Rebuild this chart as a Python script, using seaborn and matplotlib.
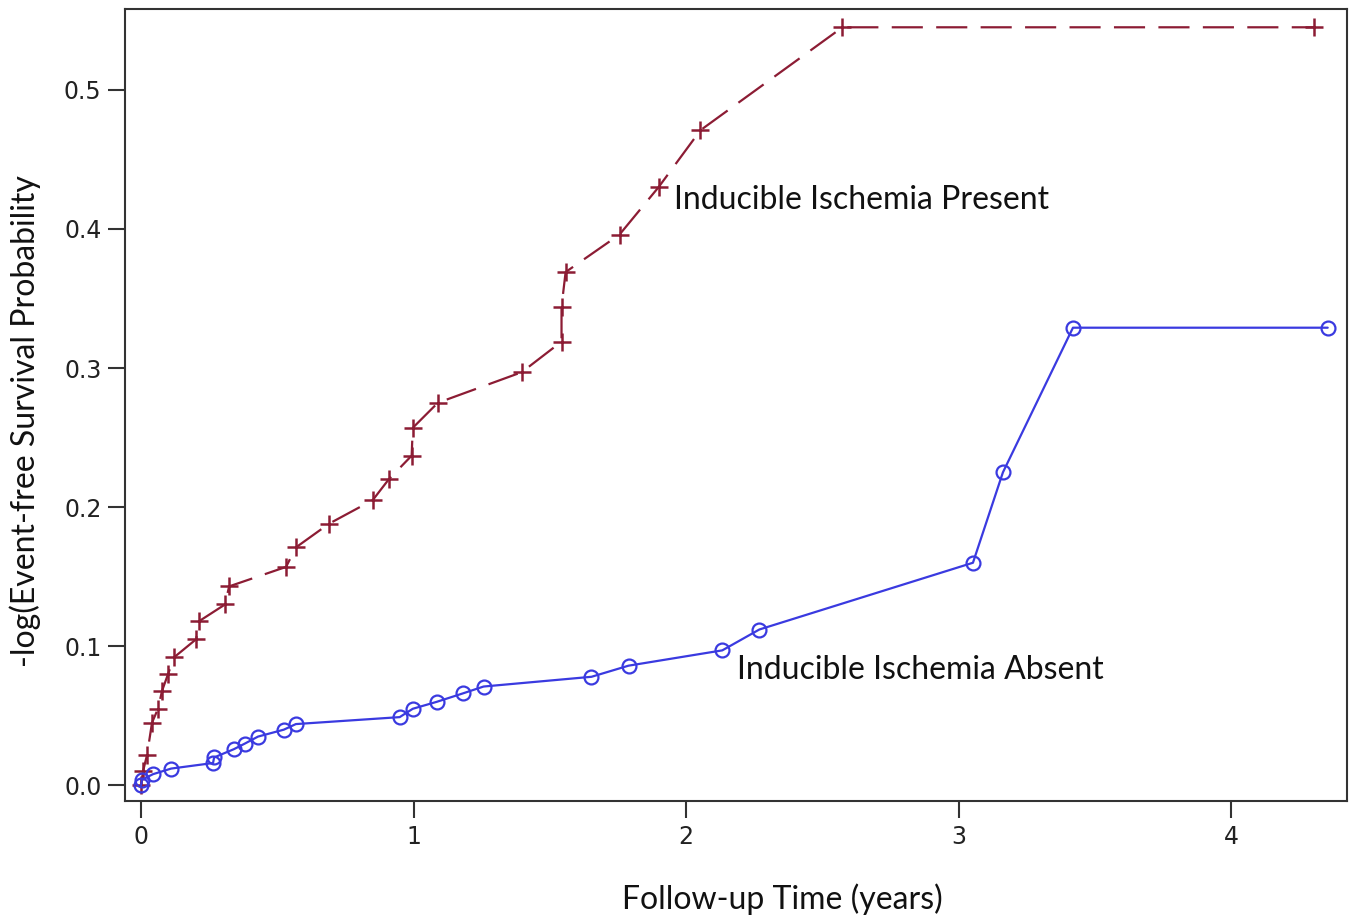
import numpy as np
import pandas as pd
import matplotlib
matplotlib.use("Agg")
import matplotlib.pyplot as plt
import seaborn as sns

# inducible ischemia present (red, dashed, + markers)
present_t = [0.0, 0.007, 0.022, 0.040, 0.062, 0.077, 0.099, 0.121, 0.202, 0.213,
             0.308, 0.323, 0.532, 0.568, 0.689, 0.850, 0.909, 0.993, 0.997, 1.089,
             1.397, 1.543, 1.543, 1.558, 1.756, 1.899, 2.053, 2.574, 4.304]
present_y = [0.0, 0.010, 0.022, 0.045, 0.055, 0.068, 0.080, 0.092, 0.105, 0.118,
             0.130, 0.143, 0.157, 0.171, 0.188, 0.205, 0.220, 0.237, 0.257, 0.275,
             0.297, 0.319, 0.344, 0.369, 0.396, 0.430, 0.471, 0.545, 0.545]

# inducible ischemia absent (blue, solid, o markers)
absent_t = [0.0, 0.003, 0.044, 0.110, 0.264, 0.268, 0.341, 0.381, 0.429, 0.524,
            0.568, 0.949, 0.997, 1.085, 1.180, 1.257, 1.653, 1.789, 2.133, 2.269,
            3.053, 3.163, 3.420, 4.355]
absent_y = [0.0, 0.004, 0.008, 0.012, 0.016, 0.020, 0.026, 0.030, 0.035, 0.040,
            0.044, 0.049, 0.055, 0.060, 0.066, 0.071, 0.078, 0.086, 0.097, 0.112,
            0.160, 0.225, 0.329, 0.329]

x_ticks = [0, 1, 2, 3, 4]
y_ticks = [0.0, 0.1, 0.2, 0.3, 0.4, 0.5]

red = "#8c1c34"
blue = "#3a3ae0"

sns.set_style("white")
fig = plt.figure(figsize=(13.56, 9.21), dpi=100)
ax = fig.add_axes([0.0922, 0.130, 0.9010, 0.860])

sns.lineplot(x=present_t, y=present_y, sort=False, estimator=None, ax=ax,
             color=red, linewidth=1.6, linestyle=(0, (14, 6)),
             marker="+", markersize=13, markeredgewidth=1.8,
             markeredgecolor=red, markerfacecolor=red)
sns.lineplot(x=absent_t, y=absent_y, sort=False, estimator=None, ax=ax,
             color=blue, linewidth=1.6,
             marker="o", markersize=10, markerfacecolor="none",
             markeredgecolor=blue, markeredgewidth=1.6)

ax.text(1.954, 0.421, "Inducible Ischemia Present", fontsize=23, family="Lato",
        va="center", ha="left", color="#111111")
ax.text(2.188, 0.083, "Inducible Ischemia Absent", fontsize=23, family="Lato",
        va="center", ha="left", color="#111111")

ax.set_xlim(-0.059, 4.425)
ax.set_ylim(-0.0115, 0.558)
ax.set_xticks(x_ticks)
ax.set_xticklabels([str(v) for v in x_ticks])
ax.set_yticks(y_ticks)
ax.set_yticklabels([f"{v:.1f}" for v in y_ticks])
for lab in ax.get_xticklabels() + ax.get_yticklabels():
    lab.set_family("DejaVu Sans")
    lab.set_fontsize(17)
    lab.set_color("#222222")
ax.tick_params(axis="both", direction="out", length=12, width=1.5,
               color="#333333", left=True, bottom=True, pad=5)

ax.set_xlabel("Follow-up Time (years)", fontsize=23, family="Lato",
              color="#111111")
ax.set_ylabel("-log(Event-free Survival Probability", fontsize=23, family="Lato",
              color="#111111")
ax.xaxis.set_label_coords(0.538, -0.104)
ax.yaxis.set_label_coords(-0.069, 0.48)

for s in ax.spines.values():
    s.set_visible(True)
    s.set_color("#333333")
    s.set_linewidth(1.5)

fig.savefig("out.png", dpi=100)
